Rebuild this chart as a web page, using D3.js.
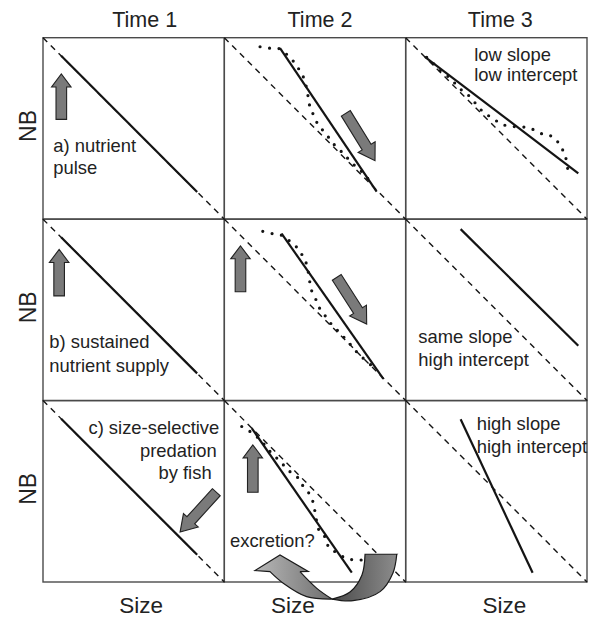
<!DOCTYPE html>
<html><head><meta charset="utf-8">
<script src="https://cdn.jsdelivr.net/npm/d3@7"></script>
<style>
html,body{margin:0;padding:0;background:#fff;}
svg{display:block;font-family:"Liberation Sans",Arial,Helvetica,sans-serif;}
</style></head><body>
<svg id="chart" width="590" height="617"></svg>
<script>
// ---------------- data ----------------
const timeLabels = ["Time 1", "Time 2", "Time 3"];
const rowLabels = ["NB", "NB", "NB"];
const xAxisLabels = ["Size", "Size", "Size"];

// reference (initial) size spectrum: NB = 1 - size (dashed)
const baseline = [[0, 1], [1, 0]];

// fitted spectra (solid) per [row][col]: [[size0, nb0], [size1, nb1]]
const solidLines = [
  [[[0.10, 0.90], [0.85, 0.15]], [[0.307, 0.942], [0.840, 0.151]], [[0.106, 0.895], [0.952, 0.252]]],
  [[[0.10, 0.90], [0.85, 0.15]], [[0.316, 0.920], [0.877, 0.120]], [[0.303, 0.945], [0.952, 0.302]]],
  [[[0.10, 0.90], [0.85, 0.15]], [[0.151, 0.848], [0.703, 0.051]], [[0.303, 0.897], [0.700, 0.051]]]
];

// observed (dotted) spectra
const dottedA2 = [[0.197,0.950],[0.252,0.942],[0.307,0.938],[0.353,0.899],[0.390,0.859],[0.417,0.816],[0.441,0.771],[0.463,0.671],[0.473,0.616],[0.495,0.568],[0.518,0.519],[0.550,0.482],[0.583,0.440],[0.616,0.399],[0.660,0.359],[0.688,0.326],[0.726,0.289],[0.763,0.256],[0.794,0.221],[0.822,0.193]];
const dottedB2 = [[0.212,0.933],[0.265,0.920],[0.316,0.911],[0.362,0.878],[0.403,0.841],[0.432,0.797],[0.454,0.750],[0.473,0.645],[0.485,0.595],[0.510,0.547],[0.528,0.504],[0.561,0.461],[0.592,0.419],[0.623,0.388],[0.666,0.342],[0.699,0.305],[0.730,0.268],[0.767,0.232],[0.813,0.191],[0.826,0.173]];
const dottedC2 = [[0.096,0.857],[0.142,0.829],[0.179,0.801],[0.215,0.765],[0.252,0.719],[0.289,0.683],[0.325,0.646],[0.362,0.608],[0.408,0.572],[0.436,0.526],[0.473,0.480],[0.491,0.434],[0.500,0.388],[0.524,0.281],[0.561,0.241],[0.574,0.195],[0.610,0.167],[0.671,0.131],[0.721,0.122],[0.776,0.122]];
const dottedA3 = [[0.116,0.892],[0.156,0.855],[0.193,0.816],[0.240,0.781],[0.281,0.739],[0.318,0.702],[0.355,0.675],[0.400,0.619],[0.437,0.583],[0.483,0.555],[0.520,0.528],[0.566,0.513],[0.621,0.509],[0.676,0.504],[0.722,0.485],[0.768,0.463],[0.814,0.454],[0.855,0.399],[0.879,0.353],[0.897,0.252]];
const dottedSeries = [
  {row: 0, col: 1, values: dottedA2},
  {row: 1, col: 1, values: dottedB2},
  {row: 2, col: 1, values: dottedC2},
  {row: 0, col: 2, values: dottedA3}
];

// straight block arrows: tail -> tip in (size, NB) of the cell
const blockArrows = [
  {row: 0, col: 0, tail: [0.101, 0.550], tip: [0.101, 0.800]},
  {row: 1, col: 0, tail: [0.089, 0.577], tip: [0.089, 0.833]},
  {row: 1, col: 1, tail: [0.089, 0.600], tip: [0.089, 0.853]},
  {row: 2, col: 1, tail: [0.157, 0.495], tip: [0.157, 0.756]},
  {row: 0, col: 1, tail: [0.670, 0.583], tip: [0.831, 0.322]},
  {row: 1, col: 1, tail: [0.620, 0.679], tip: [0.785, 0.422]},
  {row: 2, col: 0, tail: [0.956, 0.495], tip: [0.756, 0.275]}
];

// curved "excretion" arrow in cell (row 2, col 1)
const curvedRight = {
  tail: [[0.776, 0.153], [0.951, 0.153]],
  outer: [[0.951, 0.153], [0.930, 0.050], [0.859, -0.053], [0.710, -0.103], [0.594, -0.094]],
  inner: [[0.594, -0.094], [0.693, -0.055], [0.759, 0.039], [0.776, 0.153]]
};
const curvedLeft = {
  outer: [[0.594, -0.094], [0.454, -0.081], [0.325, -0.007], [0.252, 0.057]],
  head: [[0.169, 0.063], [0.307, 0.149], [0.463, 0.058], [0.417, 0.057]],
  inner: [[0.417, 0.057], [0.510, -0.035], [0.594, -0.094]]
};

// annotation texts
const annotations = [
  {row: 0, col: 0, anchor: "start", lines: [["a) nutrient", 0.057, 0.371], ["pulse", 0.057, 0.248]]},
  {row: 1, col: 0, anchor: "start", lines: [["b) sustained", 0.035, 0.287], ["nutrient supply", 0.035, 0.158]]},
  {row: 2, col: 0, anchor: "end", lines: [["c) size-selective", 0.972, 0.816], ["predation", 0.958, 0.691], ["by fish", 0.930, 0.566]]},
  {row: 2, col: 1, anchor: "start", lines: [["excretion?", 0.031, 0.195]]},
  {row: 0, col: 2, anchor: "start", lines: [["low slope", 0.378, 0.870], ["low intercept", 0.378, 0.760]]},
  {row: 1, col: 2, anchor: "start", lines: [["same slope", 0.070, 0.315], ["high intercept", 0.070, 0.191]]},
  {row: 2, col: 2, anchor: "start", lines: [["high slope", 0.392, 0.838], ["high intercept", 0.392, 0.709]]}
];

// ---------------- layout ----------------
const svg = d3.select("#chart");
const outerX = d3.scaleLinear().domain([0, 3]).range([43, 587]);
const outerY = d3.scaleLinear().domain([0, 3]).range([37.7, 582]);
function cellScales(r, c) {
  return {
    x: d3.scaleLinear().domain([0, 1]).range([outerX(c), outerX(c + 1)]),
    y: d3.scaleLinear().domain([0, 1]).range([outerY(r + 1), outerY(r)])
  };
}
const ink = "#141414";

// borders
for (let r = 0; r < 3; r++) for (let c = 0; c < 3; c++) {
  svg.append("rect")
    .attr("x", outerX(c)).attr("y", outerY(r))
    .attr("width", outerX(c + 1) - outerX(c)).attr("height", outerY(r + 1) - outerY(r))
    .attr("fill", "none").attr("stroke", "#4a4a4a").attr("stroke-width", 1.4);
}

// headers
svg.selectAll("text.head").data(timeLabels).join("text").attr("class", "head")
  .attr("x", (d, i) => outerX(i + 0.5) + [11, 5, 4][i])
  .attr("y", 26.7).attr("text-anchor", "middle")
  .attr("font-size", 21.5).attr("fill", "#222").text(d => d);

// NB labels
svg.selectAll("text.nb").data(rowLabels).join("text").attr("class", "nb")
  .attr("transform", (d, i) => `translate(36,${outerY(i + 0.5) - 2.5}) rotate(-90)`)
  .attr("text-anchor", "middle").attr("font-size", 23).attr("fill", "#222").text(d => d);

// lines per cell
for (let r = 0; r < 3; r++) for (let c = 0; c < 3; c++) {
  const s = cellScales(r, c);
  const line = d3.line().x(d => s.x(d[0])).y(d => s.y(d[1]));
  svg.append("path").attr("d", line(baseline))
    .attr("fill", "none").attr("stroke", ink).attr("stroke-width", 1.4)
    .attr("stroke-dasharray", "6,5");
  svg.append("path").attr("d", line(solidLines[r][c]))
    .attr("fill", "none").attr("stroke", ink).attr("stroke-width", 2.2);
}

// dotted spectra
dottedSeries.forEach(ds => {
  const s = cellScales(ds.row, ds.col);
  const line = d3.line().x(d => s.x(d[0])).y(d => s.y(d[1])).curve(d3.curveCatmullRom);
  svg.append("path").attr("d", line(ds.values))
    .attr("fill", "none").attr("stroke", ink).attr("stroke-width", 3.2)
    .attr("stroke-linecap", "round").attr("stroke-dasharray", "0,9.5");
});

// block arrows
function arrowPoints(p0, p1, sw, hw, hl) {
  const dx = p1[0] - p0[0], dy = p1[1] - p0[1];
  const L = Math.hypot(dx, dy), ux = dx / L, uy = dy / L, nx = -uy, ny = ux;
  const bx = p1[0] - ux * hl, by = p1[1] - uy * hl;
  return [
    [p0[0] + nx * sw / 2, p0[1] + ny * sw / 2],
    [bx + nx * sw / 2, by + ny * sw / 2],
    [bx + nx * hw / 2, by + ny * hw / 2],
    [p1[0], p1[1]],
    [bx - nx * hw / 2, by - ny * hw / 2],
    [bx - nx * sw / 2, by - ny * sw / 2],
    [p0[0] - nx * sw / 2, p0[1] - ny * sw / 2]
  ];
}
blockArrows.forEach(a => {
  const s = cellScales(a.row, a.col);
  const p0 = [s.x(a.tail[0]), s.y(a.tail[1])], p1 = [s.x(a.tip[0]), s.y(a.tip[1])];
  const vertical = Math.abs(p0[0] - p1[0]) < 1;
  const pts = vertical ? arrowPoints(p0, p1, 10.6, 19.5, 13) : arrowPoints(p0, p1, 10.5, 20, 16);
  svg.append("path").attr("d", "M" + pts.map(p => p.join(",")).join("L") + "Z")
    .attr("fill", "#7a7a7a").attr("stroke", "#222").attr("stroke-width", 1.1)
    .attr("stroke-linejoin", "miter");
});

// annotations
annotations.forEach(a => {
  const s = cellScales(a.row, a.col);
  a.lines.forEach(l => {
    svg.append("text").attr("x", s.x(l[1])).attr("y", s.y(l[2]))
      .attr("text-anchor", a.anchor).attr("font-size", 18.4).attr("fill", "#222").text(l[0]);
  });
});

// x labels
svg.selectAll("text.size").data(xAxisLabels).join("text").attr("class", "size")
  .attr("x", (d, i) => outerX(i + 0.5) + [7.5, -22, 8][i])
  .attr("y", 613).attr("text-anchor", "middle")
  .attr("font-size", 22.5).attr("fill", "#222").text(d => d);

// curved arrow
{
  const s = cellScales(2, 1);
  const P = d => [s.x(d[0]), s.y(d[1])];
  const smooth = d3.line().x(d => P(d)[0]).y(d => P(d)[1]).curve(d3.curveCatmullRom);
  const straight = pts => pts.map(d => "L" + P(d).join(",")).join("");
  const defs = svg.append("defs");
  const g1 = defs.append("linearGradient").attr("id", "gL").attr("x1", "0").attr("x2", "1").attr("y1", "0").attr("y2", "0");
  g1.append("stop").attr("offset", "0").attr("stop-color", "#b8b8b8");
  g1.append("stop").attr("offset", "1").attr("stop-color", "#6e6e6e");
  const g2 = defs.append("linearGradient").attr("id", "gR").attr("x1", "0").attr("x2", "1").attr("y1", "0").attr("y2", "0");
  g2.append("stop").attr("offset", "0").attr("stop-color", "#4a4a4a");
  g2.append("stop").attr("offset", "1").attr("stop-color", "#8c8c8c");

  const rightD = "M" + P(curvedRight.tail[0]).join(",") + straight([curvedRight.tail[1]]) +
    smooth(curvedRight.outer).replace(/^M/, "L") + smooth(curvedRight.inner).replace(/^M/, "L") + "Z";
  const leftD = smooth(curvedLeft.outer) + straight(curvedLeft.head) +
    smooth(curvedLeft.inner).replace(/^M/, "L") + "Z";
  svg.append("path").attr("d", rightD).attr("fill", "url(#gR)").attr("stroke", "#1a1a1a").attr("stroke-width", 1.2);
  svg.append("path").attr("d", leftD).attr("fill", "url(#gL)").attr("stroke", "#1a1a1a").attr("stroke-width", 1.2);
}
</script>
</body></html>
